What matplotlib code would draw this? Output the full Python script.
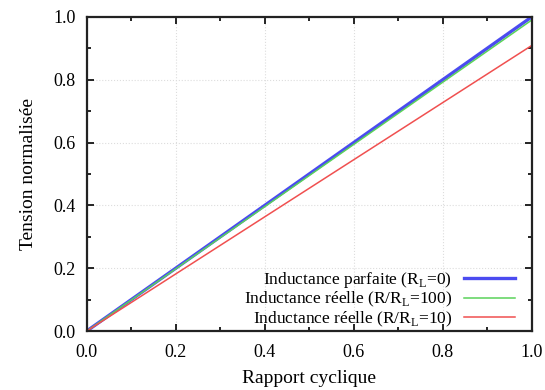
import numpy as np
import matplotlib.pyplot as plt
from matplotlib.ticker import MultipleLocator

# Duty cycle endpoints and normalized voltage
rapport = [0.0, 1.0]
tension_parfaite = [0.0, 1.0]
tension_r100 = [0.0, 0.99]
tension_r10 = [0.0, 0.909]

labels = [r"Inductance parfaite (R$_\mathrm{L}$=0)",
          r"Inductance réelle (R/R$_\mathrm{L}$=100)",
          r"Inductance réelle (R/R$_\mathrm{L}$=10)"]

plt.rcParams['font.family'] = ['Liberation Serif', 'DejaVu Serif']
plt.rcParams['mathtext.fontset'] = 'custom'
plt.rcParams['mathtext.rm'] = 'Liberation Serif'

fig = plt.figure(figsize=(5.45, 3.9), dpi=100)
ax = fig.add_axes([0.159, 0.151, 0.817, 0.806])

ax.plot(rapport, tension_parfaite, color='#4b4bf0', lw=2.4, label=labels[0])
ax.plot(rapport, tension_r100, color='#5ad25a', lw=1.1, label=labels[1])
ax.plot(rapport, tension_r10, color='#f05050', lw=1.1, label=labels[2])

ax.set_xlim(0, 1)
ax.set_ylim(0, 1)
ax.xaxis.set_major_locator(MultipleLocator(0.2))
ax.yaxis.set_major_locator(MultipleLocator(0.2))
ax.xaxis.set_minor_locator(MultipleLocator(0.1))
ax.yaxis.set_minor_locator(MultipleLocator(0.1))
ax.xaxis.set_major_formatter(lambda v, p: f"{v:.1f}")
ax.yaxis.set_major_formatter(lambda v, p: f"{v:.1f}")
ax.tick_params(which='both', direction='in', top=True, right=True,
               labelsize=13, width=1.2)
ax.tick_params(which='major', length=5)
ax.tick_params(axis='x', which='major', pad=9)
ax.tick_params(axis='y', which='major', pad=8)
ax.tick_params(which='minor', length=3)
ax.grid(True, which='major', color='#dddddd', lw=0.8, ls=':')
for s in ax.spines.values():
    s.set_linewidth(1.6)
    s.set_color('#222222')

ax.set_xlabel("Rapport cyclique", fontsize=14, labelpad=7)
ax.set_ylabel("Tension normalisée", fontsize=14, labelpad=12)

ax.legend(loc='lower right', frameon=False, markerfirst=False, fontsize=12.5,
          handlelength=2.9, labelspacing=0.0, borderaxespad=0.2,
          handletextpad=0.7, bbox_to_anchor=(0.985, -0.025))

fig.savefig("out.png", dpi=100)
